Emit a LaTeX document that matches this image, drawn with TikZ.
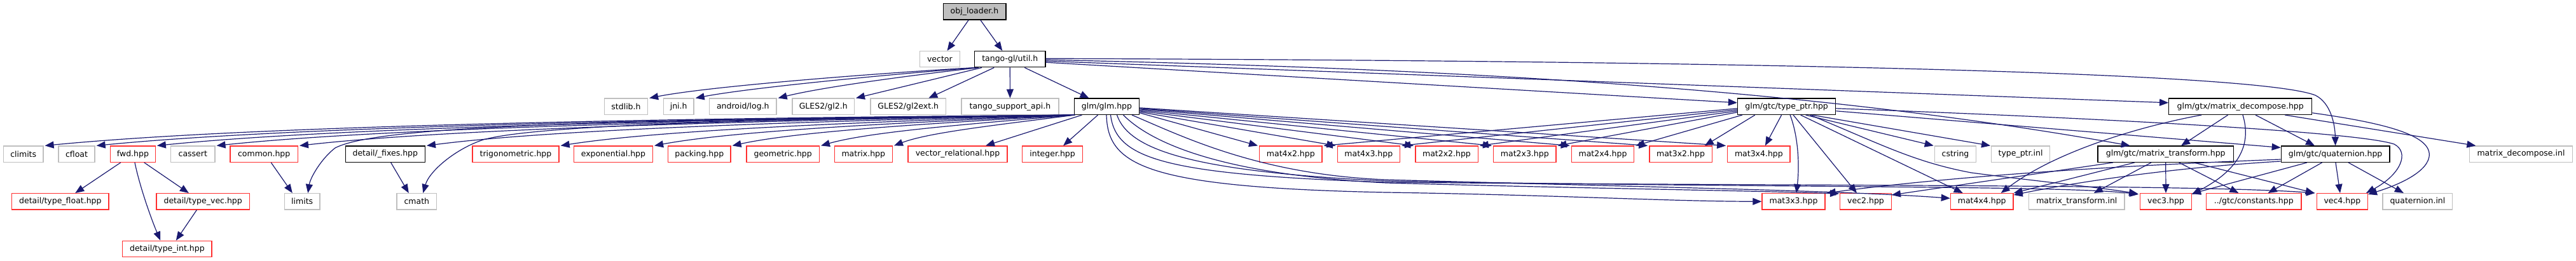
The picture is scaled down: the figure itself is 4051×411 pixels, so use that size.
\documentclass[tikz,border=0pt]{standalone}
\usepackage{fontspec}
\setmainfont{DejaVu Sans}
\usetikzlibrary{arrows.meta}
\definecolor{edgec}{RGB}{25,25,112}
\definecolor{grayc}{RGB}{191,191,191}
\definecolor{redc}{RGB}{255,48,48}
\definecolor{fillc}{RGB}{191,191,191}
\begin{document}
\begin{tikzpicture}[x=1pt,y=-1pt,
  nd/.style={draw, rectangle, line width=1.3pt, minimum height=25.3pt, inner sep=0pt, font=\fontsize{12.5}{15}\selectfont, anchor=center},
  blk/.style={nd, draw=black},
  gry/.style={nd, draw=grayc},
  rd/.style={nd, draw=redc},
  ed/.style={draw=edgec, line width=1.2pt, -{Triangle[length=14pt,width=11pt]}}]
\useasboundingbox[fill=white] (0,0) rectangle (4051,411);
% row 0
\node[blk, fill=fillc, minimum width=98.7pt] (obj) at (1532.5,18.5) {obj\_loader.h};
% row 1
\node[gry, minimum width=62.5pt] (vector) at (1477.9,93.2) {vector};
\node[blk, minimum width=111.3pt] (util) at (1588.3,93.2) {tango-gl/util.h};
% row 2
\node[gry, minimum width=68pt] (stdlib) at (984.5,167.8) {stdlib.h};
\node[gry, minimum width=47.7pt] (jni) at (1067.2,167.8) {jni.h};
\node[gry, minimum width=105.3pt] (android) at (1168.3,167.8) {android/log.h};
\node[gry, minimum width=97.3pt] (gl2) at (1294.7,167.8) {GLES2/gl2.h};
\node[gry, minimum width=118.7pt] (gl2ext) at (1428.3,167.8) {GLES2/gl2ext.h};
\node[gry, minimum width=153.1pt] (tsapi) at (1588.4,167.8) {tango\_support\_api.h};
\node[blk, minimum width=102.4pt] (glm) at (1740.5,167.8) {glm/glm.hpp};
\node[blk, minimum width=154.2pt] (typeptr) at (2809.6,167.8) {glm/gtc/type\_ptr.hpp};
\node[blk, minimum width=225pt] (mdecomp) at (3523.2,167.8) {glm/gtx/matrix\_decompose.hpp};
% row 3
\node[gry, minimum width=62.5pt] (climits) at (36.7,242.7) {climits};
\node[gry, minimum width=57pt] (cfloat) at (120.5,242.7) {cfloat};
\node[rd, minimum width=70.6pt] (fwd) at (208.9,242.7) {fwd.hpp};
\node[gry, minimum width=69.2pt] (cassert) at (303.3,242.7) {cassert};
\node[rd, minimum width=106.3pt] (common) at (415.2,242.7) {common.hpp};
\node[blk, minimum width=125pt] (fixes) at (605.8,242.7) {detail/\_fixes.hpp};
\node[rd, minimum width=136pt] (trig) at (811,242.7) {trigonometric.hpp};
\node[rd, minimum width=124.1pt] (expo) at (964.4,242.7) {exponential.hpp};
\node[rd, minimum width=98.3pt] (packing) at (1099.8,242.7) {packing.hpp};
\node[rd, minimum width=114.3pt] (geometric) at (1231.2,242.7) {geometric.hpp};
\node[rd, minimum width=91pt] (matrix) at (1357.8,242.7) {matrix.hpp};
\node[rd, minimum width=156.2pt] (vrel) at (1506,242.7) {vector\_relational.hpp};
\node[rd, minimum width=94.6pt] (integer) at (1655.1,242.7) {integer.hpp};
\node[rd, minimum width=98.3pt] (m4x2) at (2029.8,242.7) {mat4x2.hpp};
\node[rd, minimum width=98.3pt] (m4x3) at (2152.3,242.7) {mat4x3.hpp};
\node[rd, minimum width=98.3pt] (m2x2) at (2275,242.7) {mat2x2.hpp};
\node[rd, minimum width=98.3pt] (m2x3) at (2397.8,242.7) {mat2x3.hpp};
\node[rd, minimum width=98.3pt] (m2x4) at (2520.5,242.7) {mat2x4.hpp};
\node[rd, minimum width=98.3pt] (m3x2) at (2643,242.7) {mat3x2.hpp};
\node[rd, minimum width=98.3pt] (m3x4) at (2765.9,242.7) {mat3x4.hpp};
\node[gry, minimum width=65.3pt] (cstring) at (3075,242.7) {cstring};
\node[gry, minimum width=91.7pt] (typeptrinl) at (3177.5,242.7) {type\_ptr.inl};
\node[blk, minimum width=213.3pt] (mtrans) at (3405.7,242.7) {glm/gtc/matrix\_transform.hpp};
\node[blk, minimum width=170.6pt] (quat) at (3672.6,242.7) {glm/gtc/quaternion.hpp};
\node[gry, minimum width=162.3pt] (mdinl) at (3964.5,242.7) {matrix\_decompose.inl};
% row 4
\node[rd, minimum width=152.3pt] (typefloat) at (94.9,317.3) {detail/type\_float.hpp};
\node[rd, minimum width=146.4pt] (typevec) at (319.2,317.3) {detail/type\_vec.hpp};
\node[gry, minimum width=55.8pt] (limits) at (475.2,317.3) {limits};
\node[gry, minimum width=62.6pt] (cmath) at (655.3,317.3) {cmath};
\node[rd, minimum width=99pt] (m3x3) at (2820.5,317.3) {mat3x3.hpp};
\node[rd, minimum width=80.6pt] (vec2) at (2934,317.3) {vec2.hpp};
\node[rd, minimum width=98.7pt] (m4x4) at (3116.7,317.3) {mat4x4.hpp};
\node[gry, minimum width=150.5pt] (mtinl) at (3265.8,317.3) {matrix\_transform.inl};
\node[rd, minimum width=80.6pt] (vec3) at (3406,317.3) {vec3.hpp};
\node[rd, minimum width=149.3pt] (constants) at (3544.3,317.3) {../gtc/constants.hpp};
\node[rd, minimum width=80pt] (vec4) at (3683.3,317.3) {vec4.hpp};
\node[gry, minimum width=109.6pt] (quatinl) at (3801.9,317.3) {quaternion.inl};
% row 5
\node[rd, minimum width=140.2pt] (typeint) at (262.9,392) {detail/type\_int.hpp};

% ---- obj_loader
\draw[ed] ([shift={(-9.5,0)}]obj.south) -- ([shift={(11.6,0)}]vector.north);
\draw[ed] ([shift={(9.5,0)}]obj.south) -- ([shift={(-12,0)}]util.north);
% ---- util
\draw[ed] ([shift={(2,0)}]util.south west) .. controls (1400,114) and (1120,135) .. ([shift={(2,0)}]stdlib.north east);
\draw[ed] ([shift={(4,0)}]util.south west) .. controls (1400,117) and (1180,138) .. ([shift={(2,0)}]jni.north east);
\draw[ed] ([shift={(7,0)}]util.south west) .. controls (1420,120) and (1290,138) .. ([shift={(2,0)}]android.north east);
\draw[ed] ([shift={(12,0)}]util.south west) -- ([shift={(2,0)}]gl2.north east);
\draw[ed] ([shift={(-25,0)}]util.south) -- ([shift={(32,0)}]gl2ext.north);
\draw[ed] (util.south) -- (tsapi.north);
\draw[ed] ([shift={(23,0)}]util.south) -- ([shift={(-28,0)}]glm.north);
\draw[ed] ([shift={(0,5)}]util.east) -- ([shift={(0,-6)}]typeptr.west);
\draw[ed] ([shift={(0,3)}]util.east) -- ([shift={(0,-6)}]mdecomp.west);
\draw[ed] ([shift={(0,1)}]util.east) .. controls (2300,108) and (2850,140) .. ([shift={(-56,0)}]mtrans.north);
\draw[ed] ([shift={(0,-1)}]util.east) .. controls (2800,96) and (3550,115) .. (3641,150) .. controls (3665,162) and (3672,195) .. (quat.north);
% ---- glm left fan
\draw[ed] ([shift={(1,0)}]glm.south west) .. controls (1042,186) and (394,198) .. ([shift={(2,0)}]climits.north east);
\draw[ed] ([shift={(1,0)}]glm.south west) .. controls (1074,187) and (459,199) .. ([shift={(2,0)}]cfloat.north east);
\draw[ed] ([shift={(1,0)}]glm.south west) .. controls (1112,188) and (535,200) .. ([shift={(2,0)}]fwd.north east);
\draw[ed] ([shift={(1,0)}]glm.south west) .. controls (1150,189) and (610,201) .. ([shift={(2,0)}]cassert.north east);
\draw[ed] ([shift={(1,0)}]glm.south west) .. controls (1202,190) and (714,202) .. ([shift={(2,0)}]common.north east);
\draw[ed] ([shift={(1,0)}]glm.south west) .. controls (1282,191) and (874,203) .. ([shift={(2,0)}]fixes.north east);
\draw[ed] ([shift={(1,0)}]glm.south west) .. controls (1366,192) and (1043,204) .. ([shift={(2,0)}]trig.north east);
\draw[ed] ([shift={(1,0)}]glm.south west) .. controls (1425,193) and (1160,205) .. ([shift={(2,0)}]expo.north east);
\draw[ed] ([shift={(1,0)}]glm.south west) .. controls (1474,194) and (1259,206) .. ([shift={(2,0)}]packing.north east);
\draw[ed] ([shift={(1,0)}]glm.south west) .. controls (1530,195) and (1370,207) .. ([shift={(2,0)}]geometric.north east);
\draw[ed] ([shift={(1,0)}]glm.south west) .. controls (1576,196) and (1462,208) .. ([shift={(2,0)}]matrix.north east);
\draw[ed] ([shift={(2,0)}]glm.south west) .. controls (1000,190) and (600,195) .. (527,233) .. controls (505,250) and (488,280) .. ([shift={(9,0)}]limits.north);
\draw[ed] ([shift={(2,0)}]glm.south west) .. controls (1150,188) and (840,198) .. (760,220) .. controls (715,235) and (675,270) .. ([shift={(10,0)}]cmath.north);
\draw[ed] ([shift={(-39,0)}]glm.south) -- ([shift={(44,0)}]vrel.north);
\draw[ed] ([shift={(-14,0)}]glm.south) -- ([shift={(17,0)}]integer.north);
% ---- glm right fan
\draw[ed] ([shift={(0,10)}]glm.east) -- ([shift={(-2,0)}]m4x2.north west);
\draw[ed] ([shift={(0,8.5)}]glm.east) -- ([shift={(-2,0)}]m4x3.north west);
\draw[ed] ([shift={(0,7)}]glm.east) -- ([shift={(-2,0)}]m2x2.north west);
\draw[ed] ([shift={(0,5.5)}]glm.east) -- ([shift={(-2,0)}]m2x3.north west);
\draw[ed] ([shift={(0,4)}]glm.east) -- ([shift={(-2,0)}]m2x4.north west);
\draw[ed] ([shift={(0,3)}]glm.east) -- ([shift={(-2,0)}]m3x2.north west);
\draw[ed] ([shift={(0,2)}]glm.east) -- ([shift={(-2,0)}]m3x4.north west);
% ---- glm to row 4
\draw[ed] ([shift={(-0.5,0)}]glm.south) .. controls (1742,260) and (1800,295) .. (2180,303) .. controls (2450,307) and (2620,317) .. (m3x3.west);
\draw[ed] ([shift={(6,0)}]glm.south) .. controls (1755,250) and (1830,275) .. (2180,287) .. controls (2800,293) and (3450,290) .. ([shift={(-2,0)}]vec4.north west);
\draw[ed] ([shift={(16,0)}]glm.south) .. controls (1775,235) and (1870,270) .. (2180,285) .. controls (2800,296) and (3250,292) .. ([shift={(-2,2)}]vec3.north west);
\draw[ed] ([shift={(26,0)}]glm.south) .. controls (1810,225) and (1920,275) .. (2180,288) .. controls (2500,297) and (2750,300) .. ([shift={(-1,1)}]vec2.north west);
\draw[ed] ([shift={(39.5,0)}]glm.south) .. controls (1860,215) and (1980,275) .. (2180,283) .. controls (2600,295) and (2900,300) .. ([shift={(0,-5)}]m4x4.west);
% ---- type_ptr
\draw[ed] ([shift={(0,3)}]typeptr.west) -- ([shift={(2,0)}]m4x2.north east);
\draw[ed] ([shift={(0,5)}]typeptr.west) -- ([shift={(2,0)}]m4x3.north east);
\draw[ed] ([shift={(0,7)}]typeptr.west) -- ([shift={(2,0)}]m2x2.north east);
\draw[ed] ([shift={(0,9)}]typeptr.west) -- ([shift={(2,0)}]m2x3.north east);
\draw[ed] ([shift={(8,0)}]typeptr.south west) -- ([shift={(2,0)}]m2x4.north east);
\draw[ed] ([shift={(28,0)}]typeptr.south west) -- ([shift={(-12,0)}]m3x2.north east);
\draw[ed] ([shift={(-8,0)}]typeptr.south) -- ([shift={(10,0)}]m3x4.north);
\draw[ed] ([shift={(5.5,0)}]typeptr.south) .. controls (2828,215) and (2830,260) .. ([shift={(4.5,0)}]m3x3.north);
\draw[ed] ([shift={(10.5,0)}]typeptr.south) -- ([shift={(-14,0)}]vec2.north);
\draw[ed] ([shift={(22,0)}]typeptr.south) -- ([shift={(-30,0)}]m4x4.north);
\draw[ed] ([shift={(30,0)}]typeptr.south) -- ([shift={(-1,0)}]cstring.north west);
\draw[ed] ([shift={(37,0)}]typeptr.south) .. controls (2960,228) and (3010,255) .. (3100,272) .. controls (3200,285) and (3300,295) .. ([shift={(-3,1)}]vec3.north west);
\draw[ed] ([shift={(40,0)}]typeptr.south) -- ([shift={(-1,0)}]typeptrinl.north west);
\draw[ed] ([shift={(0,7)}]typeptr.east) -- ([shift={(0,3)}]quat.north west);
\draw[ed] ([shift={(0,3)}]typeptr.east) .. controls (3200,182) and (3700,205) .. (3765,227) .. controls (3790,240) and (3775,275) .. ([shift={(-3,0)}]vec4.north east);
% ---- matrix_decompose
\draw[ed] ([shift={(-19.6,0)}]mdecomp.south) -- ([shift={(24.3,0)}]mtrans.north);
\draw[ed] ([shift={(23.8,0)}]mdecomp.south) -- ([shift={(-32.6,0)}]quat.north);
\draw[ed] ([shift={(3.8,0)}]mdecomp.south) .. controls (3537,215) and (3535,260) .. ([shift={(0,2)}]vec3.north east);
\draw[ed] ([shift={(-61.2,0)}]mdecomp.south) .. controls (3360,200) and (3230,240) .. ([shift={(30,0)}]m4x4.north);
\draw[ed] ([shift={(70.1,0)}]mdecomp.south) -- ([shift={(10.7,0)}]mdinl.north west);
\draw[ed] ([shift={(0,10)}]mdecomp.east) .. controls (3760,195) and (3825,215) .. (3820,247) .. controls (3815,275) and (3760,295) .. ([shift={(0,2)}]vec4.north east);
% ---- matrix_transform
\draw[ed] ([shift={(-82.7,0)}]mtrans.south) -- ([shift={(0,3)}]vec2.north east);
\draw[ed] ([shift={(-49,0)}]mtrans.south) -- (m4x4.north east);
\draw[ed] ([shift={(-22.7,0)}]mtrans.south) -- ([shift={(27,0)}]mtinl.north);
\draw[ed] (mtrans.south) -- (vec3.north);
\draw[ed] ([shift={(21,0)}]mtrans.south) -- ([shift={(-24,0)}]constants.north);
\draw[ed] ([shift={(44.3,0)}]mtrans.south) -- ([shift={(-3,0)}]vec4.north west);
% ---- quaternion
\draw[ed] ([shift={(0,-5)}]quat.south west) .. controls (3300,262) and (3050,280) .. ([shift={(2,0)}]m3x3.north east);
\draw[ed] ([shift={(0,-2)}]quat.south west) .. controls (3400,265) and (3250,290) .. ([shift={(0,3)}]m4x4.north east);
\draw[ed] ([shift={(-44.6,0)}]quat.south) -- ([shift={(0,1)}]vec3.north east);
\draw[ed] ([shift={(-21,0)}]quat.south) -- ([shift={(22.4,0)}]constants.north);
\draw[ed] ([shift={(0.4,0)}]quat.south) -- ([shift={(-3.3,0)}]vec4.north);
\draw[ed] ([shift={(20.4,0)}]quat.south) -- ([shift={(-22,0)}]quatinl.north);
% ---- left small
\draw[ed] ([shift={(-19.2,0)}]fwd.south) -- ([shift={(23.4,0)}]typefloat.north);
\draw[ed] ([shift={(17.9,0)}]fwd.south) -- ([shift={(-22.3,0)}]typevec.north);
\draw[ed] ([shift={(3.1,0)}]fwd.south) .. controls (220,295) and (238,345) .. ([shift={(-10.7,0)}]typeint.north);
\draw[ed] ([shift={(-9.8,0)}]typevec.south) -- ([shift={(13.9,0)}]typeint.north);
\draw[ed] ([shift={(11.1,0)}]common.south) -- ([shift={(-15.4,0)}]limits.north);
\draw[ed] ([shift={(8.9,0)}]fixes.south) -- ([shift={(-12.5,0)}]cmath.north);
\end{tikzpicture}
\end{document}
